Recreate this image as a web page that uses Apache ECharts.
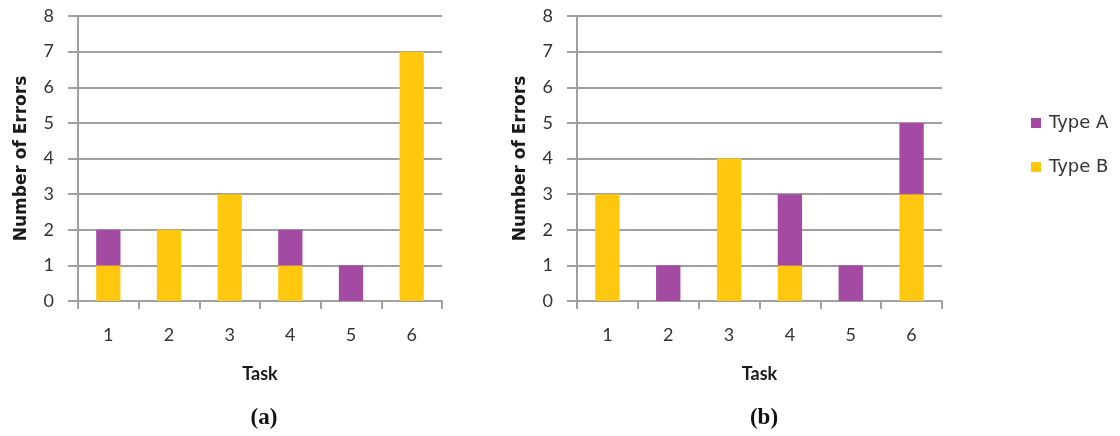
<!DOCTYPE html>
<html><head><meta charset="utf-8">
<script src="https://cdn.jsdelivr.net/npm/echarts@6/dist/echarts.min.js"></script>
<style>html,body{margin:0;padding:0;background:#fff}#c{width:1120px;height:436px}</style>
</head><body><div id="c"></div>
<script>
const tasks = ['1','2','3','4','5','6'];
const aTypeA = [1, 0, 0, 1, 1, 0];
const aTypeB = [1, 2, 3, 1, 0, 7];
const bTypeA = [0, 1, 0, 2, 1, 2];
const bTypeB = [3, 0, 4, 1, 0, 3];
const yTicks = [0,1,2,3,4,5,6,7,8];
const panelLabels = ['(a)', '(b)'];

const purple = '#A34AA2';
const yellow = '#FFC80F';
const gridCol = '#A0A0A0';
const font = 'Lato';

function xAxis(i){
  return {
    type:'category', gridIndex:i, data:tasks, boundaryGap:true,
    name:'Task', nameLocation:'middle', nameGap:64,
    nameTextStyle:{fontFamily:font, fontWeight:'bold', fontSize:18, color:'#1a1a1a'},
    axisLine:{lineStyle:{color:gridCol, width:2}},
    axisTick:{show:true, length:8, alignWithLabel:false, lineStyle:{color:gridCol, width:2}},
    axisLabel:{fontFamily:font, fontSize:18, color:'#333', margin:25}
  };
}
function yAxis(i, gap){
  return {
    type:'value', gridIndex:i, min:0, max:8, interval:1,
    name:'Number of Errors', nameLocation:'middle', nameRotate:90, nameGap:gap,
    nameTextStyle:{fontFamily:'DejaVu Sans', fontWeight:'bold', fontSize:17, color:'#1a1a1a'},
    axisLine:{show:true, lineStyle:{color:gridCol, width:2}},
    axisTick:{show:true, length:10, lineStyle:{color:gridCol, width:2}},
    splitLine:{show:true, lineStyle:{color:gridCol, width:2}},
    axisLabel:{fontFamily:font, fontSize:18, color:'#333', margin:24,
      formatter:v => yTicks.includes(v) ? String(v) : ''}
  };
}
function bar(name, data, i, color){
  return {name, type:'bar', stack:'s'+i, xAxisIndex:i, yAxisIndex:i, data,
    barWidth:'40%', itemStyle:{color}, emphasis:{disabled:true}};
}

const chart = echarts.init(document.getElementById('c'), null, {renderer:'canvas'});
chart.setOption({
  animation:false,
  grid:[
    {left:78, right:1120-442, top:16, bottom:436-301},
    {left:577, right:1120-942, top:16, bottom:436-301}
  ],
  xAxis:[xAxis(0), xAxis(1)],
  yAxis:[yAxis(0,48), yAxis(1,48)],
  legend:{
    orient:'vertical', left:1026, top:109, itemWidth:10, itemHeight:10, itemGap:26,
    data:['Type A','Type B'], icon:'rect',
    textStyle:{fontFamily:'DejaVu Sans', fontSize:18, color:'#333', padding:[0,0,0,3]}
  },
  title:[
    {text:panelLabels[0], left:259, top:402, textAlign:'center',
      textStyle:{fontFamily:'Liberation Serif', fontWeight:'bold', fontSize:23, color:'#111'}},
    {text:panelLabels[1], left:759, top:402, textAlign:'center',
      textStyle:{fontFamily:'Liberation Serif', fontWeight:'bold', fontSize:23, color:'#111'}}
  ],
  series:[
    bar('Type B', aTypeB, 0, yellow),
    bar('Type A', aTypeA, 0, purple),
    bar('Type B', bTypeB, 1, yellow),
    bar('Type A', bTypeA, 1, purple)
  ]
});
</script></body></html>
